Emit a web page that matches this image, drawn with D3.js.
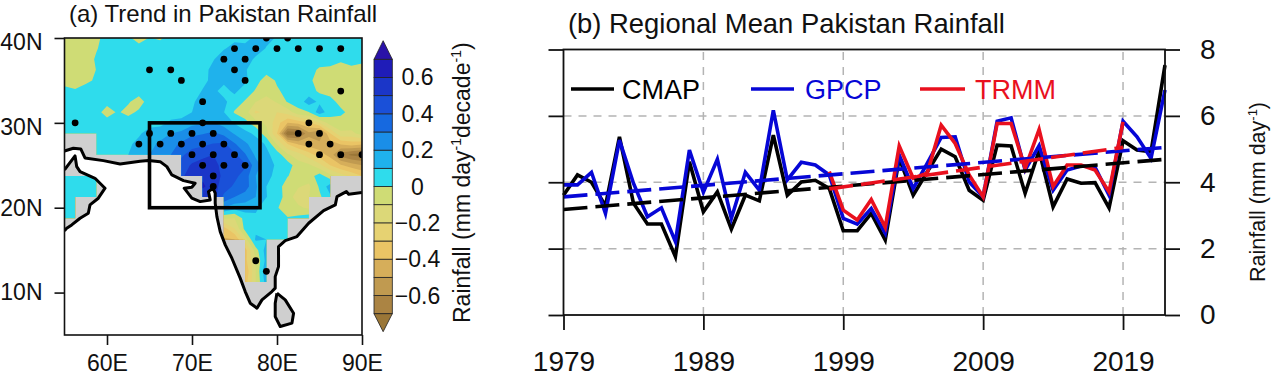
<!DOCTYPE html>
<html><head><meta charset="utf-8">
<script src="https://cdn.jsdelivr.net/npm/d3@7/dist/d3.min.js"></script>
<style>
html,body{margin:0;padding:0;background:#fff}
svg{display:block}
text{font-family:"Liberation Sans",Arial,sans-serif;fill:#111}
.domain,.tick line{stroke:#111}
</style></head><body><svg id="c" width="1271" height="376"></svg>
<script>
// ---------- Panel (a) data ----------
const trendRows = [
[-.05,-.01,.03,-.03,-.01,.04,.05,.08,.09,.11,.09,.05,.05,.05],
[-.03,-.05,.03,.04,.05,.05,.06,.08,.11,.12,.09,.06,.05,.05,.05],
[-.06,.01,.05,.05,.05,.05,.08,.12,.12,.07,.06,.05,.04,.04],
[-.04,-.05,.04,.05,.06,.06,.07,.11,.13,.06,.05,.05,-.01,-.05,-.03],
[-.05,.01,.05,.05,.05,.06,.09,.12,.12,-.04,.04,.01,-.06,-.06],
[.02,.03,.05,.05,.05,.06,.08,.12,.12,-.01,-.01,.05,-.02,-.08,-.03],
[.05,.03,.03,-.03,.05,.07,.12,.12,-.01,-.15,.01,.15,.03,-.08],
[.05,.05,-.03,-.02,.05,.07,.10,.14,-.01,-.22,-.2,-.03,.16,.02,-.03],
[.05,.05,.05,.05,.07,.11,.19,.16,.03,-.12,-.4,-.3,-.05,-.02],
[.05,.05,.05,.06,.13,.2,.28,.32,.19,.08,-.3,-.75,-.6,-.12,-.05],
[.05,.05,.07,.12,.22,.32,.38,.42,.22,.09,-.3,-.45,-.45,-.35],
[.05,.05,.06,.1,.2,.3,.45,.5,.42,.18,.06,-.15,-.35,-.65,-.75],
[.05,.05,.05,.1,.2,.45,.55,.48,.42,.15,.05,-.08,-.3,-.45],
[.05,.05,.05,.1,.2,.4,.6,.55,.43,.2,.07,-.05,.05,-.15,-.3],
[.05,.05,.05,.1,.2,.4,.62,.45,.35,.1,-.05,-.12,.15,0],
[.05,.05,.05,.1,.2,.3,.5,.55,.3,.2,.06,-.15,-.02,.1,0],
[.05,.05,.05,.1,.15,.2,.4,.2,.15,.05,-.08,-.12,.1,0],
[.05,.05,.05,.05,.05,.05,.05,-.1,-.1,.08,.02,.03,.25,.1,0],
[.05,.05,.05,.05,.05,.05,.05,-.35,.03,.07,.08,.1,.05,0],
[.05,.05,.05,.05,.05,.05,.05,-.4,-.4,.12,.06,.05,.05,.05,0],
[.05,.05,.05,.05,.05,.05,.05,-.5,-.35,.15,.05,.05,.05,0],
[.05,.05,.05,.05,.05,.05,.05,-.5,-.5,-.1,.3,.05,.05,.05,0],
[.05,.05,.05,.05,.05,.05,.05,.05,-.4,.2,.2,.05,.05,0],
[.05,.05,.05,.05,.05,.05,.05,-.5,-.5,-.1,.3,.05,.05,.05,0],
[.05,.05,.05,.05,.05,.05,.05,.05,-.4,.2,.2,.05,.05,0]
];
const trendExtras = [[73.75,33.75,.07],[81.25,28.75,-.78],[88.75,26.25,-.72],[60,31.25,-.03]];
const levels = [-.7,-.6,-.5,-.4,-.3,-.2,-.1,0,.1,.2,.3,.4,.5,.6,.7];
const levelColors = ["#9a7637","#ab8443","#c09a50","#d6ae5a","#eac465","#e6d272","#dcd878","#cfdc75",
                     "#2fdcec","#1fb2ec","#1a8ee8","#1669e0","#1a50d8","#1b36c8","#1f1cb8","#2a12a8"];
const maskRows = [[40,55,90],[37.5,55,90],[35,55,90],[32.5,55,90],[30,55,90],[27.5,60,90],[25,70,90],
  [22.5,55,57.5],[22.5,72.5,85],[20,55,55],[20,75,82.5],[17.5,75,80],[15,77.5,77.5],[12.5,77.5,77.5]];
const coastMain = [[55,26.69],[56.04,27.01],[56.91,26.93],[57.41,25.87],[59.57,25.55],[61.54,25.16],[63.89,25.48],[64.87,25.55],[66.25,25.43],[67.04,24.84],[67.63,23.86],[69,23.19],[70.37,22.89],[69.98,22.41],[69.08,22.3],[69.98,21.12],[70.96,20.72],[72.14,20.92],[71.94,21.9],[72.46,22.3],[72.73,21.71],[72.73,20.53],[72.93,18.95],[73.32,17.18],[73.91,15.62],[74.69,14.05],[75.67,11.7],[76.26,10.12],[76.85,8.75],[77.64,8.16],[78.23,9.14],[79.4,10.12],[79.79,10.52],[79.79,11.88],[80.18,13.06],[80.18,15.42],[80.97,16.12],[82.35,16.6],[83.72,18.17],[85.48,19.66],[86.86,20.33],[87.06,21.31],[88.16,21.9],[88.43,21.59],[90,21.78]];
const coastArabia = [[55,24.45],[56.24,26.1],[56.44,24.84],[56.83,24.25],[58.59,23.47],[59.77,22.3],[58.98,21.12],[58,20.33],[57.8,19.35],[56.83,18.76],[55.85,17.97],[55.26,17.59],[55,17.27]];
const coastLanka = [[79.99,9.93],[80.97,9.14],[81.95,7.57],[81.76,6.4],[80.38,6],[79.79,7.17],[79.79,8.75],[79.99,9.93]];
const sigDots = [[78.75,40],[81.25,40],[75,38.75],[77.5,38.75],[80,38.75],[82.5,38.75],[85,38.75],[87.5,38.75],[73.75,37.5],[76.25,37.5],[65,36.25],[67.5,36.25],[75,36.25],[68.75,35],[76.25,35],[87.5,33.75],[71.25,32.5],[56.25,30],[71.25,30],[83.75,30],[65,28.75],[67.5,28.75],[70,28.75],[72.5,28.75],[82.5,28.75],[85,28.75],[63.75,27.5],[66.25,27.5],[68.75,27.5],[71.25,27.5],[73.75,27.5],[83.75,27.5],[86.25,27.5],[70,26.25],[72.5,26.25],[75,26.25],[85,26.25],[87.5,26.25],[90,26.25],[71.25,25],[73.75,25],[76.25,25],[72.5,23.75],[72.5,22.5],[77.5,13.75],[78.75,12.5]];
const regionBox = [65,78,20,30];
const lonTicks = [60,70,80,90];
const latTicks = [10,20,30,40];
const barTicks = [-.6,-.4,-.2,0,.2,.4,.6];

// ---------- Panel (b) data ----------
const years = d3.range(1979,2023);
const cmap = [3.61,4.22,4.0,3.29,5.37,3.37,2.74,2.74,1.76,4.62,3.11,3.71,2.59,3.61,3.44,5.42,3.61,4.01,4.06,3.81,2.54,2.54,3.06,2.26,4.72,3.61,4.31,5.0,4.77,3.76,3.46,5.12,5.09,3.67,4.95,3.26,4.1,3.97,3.99,3.23,5.25,4.97,4.92,7.53];
const gpcp = [3.92,3.92,4.3,3.06,5.27,3.97,2.96,3.23,2.21,4.97,3.7,4.69,2.91,4.3,3.76,6.17,4.07,4.6,4.52,4.22,2.91,2.74,3.21,2.46,4.82,3.81,4.57,5.35,5.37,4.01,3.56,5.84,5.94,4.37,5.1,3.76,4.37,4.49,4.45,3.61,5.84,5.37,4.72,6.78];
const trmmYears = d3.range(1998,2020);
const trmm = [4.32,3.16,2.86,3.48,2.64,5.09,4.12,4.27,5.72,5.17,4.22,3.56,5.77,5.77,4.42,5.59,3.87,4.52,4.52,4.37,3.71,5.82];
const cmapTrend = [[1979,3.18],[2022,4.69]];
const gpcpTrend = [[1979,3.56],[2022,5.05]];
const trmmTrend = [[1998,3.8],[2019,5.05]];
const yearTicks = [1979,1989,1999,2009,2019];
const rainTicks = [0,2,4,6,8];
const gridYears = [1989,1999,2009,2019];
const gridRain = [2,4,6];

const svg = d3.select("#c");
const FS = 23;

// ---------- Panel (a) ----------
const xA = d3.scaleLinear().domain([55,90]).range([64.5,362]);
const yA = d3.scaleLinear().domain([5,40]).range([335,38]);
const defs = svg.append("defs");
defs.append("clipPath").attr("id","frameA").append("rect")
  .attr("x",xA(55)).attr("y",yA(40)).attr("width",xA(90)-xA(55)).attr("height",yA(5)-yA(40));
const line = d3.line().x(d=>xA(d[0])).y(d=>yA(d[1]));
const closed = a => line(a)+"Z";
const landD = closed(coastMain.concat([[90,40],[55,40]]))+closed(coastArabia)+closed(coastLanka);
defs.append("clipPath").attr("id","land").append("path").attr("d",landD);
defs.append("clipPath").attr("id","mask").selectAll("rect").data(maskRows).join("rect")
  .attr("x",d=>xA(d[1]-1.25)).attr("width",d=>xA(d[2]+1.25)-xA(d[1]-1.25))
  .attr("y",d=>yA(d[0]+1.25)).attr("height",d=>yA(d[0]-1.25)-yA(d[0]+1.25));

// staggered data on a 1.25 degree lattice; gaps take the mean of their neighbours
const nx = 29, ny = trendRows.length;
const lat0 = 40, lon0 = 55, step = 1.25;
const grid = d3.range(ny).map(()=>new Array(nx).fill(null));
trendRows.forEach((r,i)=>r.forEach((v,j)=>{ const c = i%2===0 ? 1+2*j : 2*j; if(c<nx) grid[i][c]=v; }));
const filled = grid.map((r,i)=>r.map((v,c)=>{
  if(v!==null) return v;
  const n=[[i-1,c],[i+1,c],[i,c-1],[i,c+1]].filter(([a,b])=>a>=0&&a<ny&&b>=0&&b<nx&&grid[a][b]!==null).map(([a,b])=>grid[a][b]);
  return d3.mean(n);
}));
trendExtras.forEach(([lon,lat,v])=>{ filled[Math.round((lat0-lat)/step)][Math.round((lon-lon0)/step)]=v; });
const flat = filled.flat();
const contourGen = d3.contours().size([nx,ny]).smooth(true).thresholds(levels);
const bands = contourGen(flat);
const path = d3.geoPath(d3.geoTransform({point(x,y){
  this.stream.point(xA(lon0+(x-.5)*step), yA(lat0-(y-.5)*step));
}}));

const gA = svg.append("g").attr("clip-path","url(#frameA)");
gA.append("path").attr("d",landD).attr("fill","#cfcfcf");
const gC = gA.append("g").attr("clip-path","url(#land)").append("g").attr("clip-path","url(#mask)");
gC.append("rect").attr("x",xA(55)).attr("y",yA(40)).attr("width",xA(90)-xA(55)).attr("height",yA(5)-yA(40)).attr("fill",levelColors[0]);
gC.selectAll("path").data(bands).join("path").attr("d",path).attr("fill",(d,i)=>levelColors[i+1]);
gA.selectAll("path.coast").data([coastMain,coastArabia,coastLanka]).join("path").attr("class","coast")
  .attr("d",line).attr("fill","none").attr("stroke","#000").attr("stroke-width",3).attr("stroke-linejoin","round");
gA.selectAll("circle").data(sigDots).join("circle")
  .attr("cx",d=>xA(d[0])).attr("cy",d=>yA(d[1])).attr("r",3.4).attr("fill","#000");
svg.append("rect").attr("x",xA(regionBox[0])).attr("y",yA(regionBox[3]))
  .attr("width",xA(regionBox[1])-xA(regionBox[0])).attr("height",yA(regionBox[2])-yA(regionBox[3]))
  .attr("fill","none").attr("stroke","#000").attr("stroke-width",3.6);
svg.append("rect").attr("x",xA(55)).attr("y",yA(40)).attr("width",xA(90)-xA(55)).attr("height",yA(5)-yA(40))
  .attr("fill","none").attr("stroke","#111").attr("stroke-width",1.6);
const axB = svg.append("g").attr("transform",`translate(0,${yA(5)})`)
  .call(d3.axisBottom(xA).tickValues(lonTicks).tickFormat(d=>d+"E").tickSize(10).tickPadding(9.5));
const axL = svg.append("g").attr("transform",`translate(${xA(55)},0)`)
  .call(d3.axisLeft(yA).tickValues(latTicks).tickFormat(d=>d+"N").tickSize(10).tickPadding(12));
[axB,axL].forEach(a=>{a.select(".domain").remove();a.selectAll("line").attr("stroke-width",1.6);a.selectAll("text").style("font-size",FS+"px").style("font-family","Liberation Sans");});
axL.selectAll(".tick text").attr("dy",d=>d>=30?"0.5em":"0.32em");
svg.append("text").attr("x",69).attr("y",22).style("font-size","24px").text("(a) Trend in Pakistan Rainfall");

// colour bar
const yBar = d3.scaleLinear().domain([-.7,.7]).range([313.7,59.3]);
const barX0 = 374, barX1 = 392.3;
const barG = svg.append("g").attr("stroke","#222").attr("stroke-width",.8);
levelColors.slice(1,15).forEach((c,i)=>{
  barG.append("rect").attr("x",barX0).attr("width",barX1-barX0)
    .attr("y",yBar(levels[i+1])).attr("height",yBar(levels[i])-yBar(levels[i+1])).attr("fill",c);
});
barG.append("path").attr("d",`M${barX0},${yBar(.7)}L${(barX0+barX1)/2},40.7L${barX1},${yBar(.7)}Z`).attr("fill",levelColors[15]);
barG.append("path").attr("d",`M${barX0},${yBar(-.7)}L${(barX0+barX1)/2},331.7L${barX1},${yBar(-.7)}Z`).attr("fill",levelColors[0]);
svg.append("g").selectAll("text").data(barTicks).join("text")
  .attr("x",417.5).attr("y",d=>yBar(d)+8).attr("text-anchor","middle")
  .style("font-size",FS+"px").text(d=>d===0?"0":d3.format(".1f")(d));
const t1 = svg.append("text").attr("transform","translate(470,323) rotate(-90)").style("font-size","23px");
t1.append("tspan").text("Rainfall (mm day");
t1.append("tspan").attr("dy",-9).style("font-size","14px").text("-1");
t1.append("tspan").attr("dy",9).text("decade");
t1.append("tspan").attr("dy",-9).style("font-size","14px").text("-1");
t1.append("tspan").attr("dy",9).text(")");

// ---------- Panel (b) ----------
const xB = d3.scaleLinear().domain([1979,2022]).range([563.5,1165]);
const yB = d3.scaleLinear().domain([0,8]).range([315,49.5]);
const gridG = svg.append("g").attr("stroke","#b4b4b4").attr("stroke-width",1.5).attr("stroke-dasharray","8 7");
gridG.selectAll("line.h").data(gridRain).join("line").attr("class","h")
  .attr("x1",xB(1979)).attr("x2",xB(2022)).attr("y1",d=>yB(d)).attr("y2",d=>yB(d));
gridG.selectAll("line.v").data(gridYears).join("line").attr("class","v")
  .attr("x1",d=>xB(d)).attr("x2",d=>xB(d)).attr("y1",yB(0)).attr("y2",yB(8));
const lineB = d3.line().x(d=>xB(d[0])).y(d=>yB(d[1]));
const pair = (xs,ys)=>xs.map((x,i)=>[x,ys[i]]);
const series = [[pair(years,cmap),"#000"],[pair(years,gpcp),"#0606d6"],[pair(trmmYears,trmm),"#e9101e"]];
svg.append("g").selectAll("path").data(series).join("path")
  .attr("d",d=>lineB(d[0])).attr("fill","none").attr("stroke",d=>d[1]).attr("stroke-width",3.6).attr("stroke-linejoin","miter");
const trends = [[cmapTrend,"#000"],[gpcpTrend,"#0606d6"],[trmmTrend,"#e9101e"]];
svg.append("g").selectAll("path").data(trends).join("path")
  .attr("d",d=>lineB(d[0])).attr("fill","none").attr("stroke",d=>d[1]).attr("stroke-width",3.6).attr("stroke-dasharray","24 8");
svg.append("rect").attr("x",xB(1979)).attr("y",yB(8)).attr("width",xB(2022)-xB(1979)).attr("height",yB(0)-yB(8))
  .attr("fill","none").attr("stroke","#111").attr("stroke-width",1.8);
const fmtB = [
  svg.append("g").attr("transform",`translate(0,${yB(0)})`).call(d3.axisBottom(xB).tickValues(yearTicks).tickFormat(d3.format("d")).tickSize(15).tickPadding(21)),
  svg.append("g").attr("transform",`translate(${xB(1979)},0)`).call(d3.axisLeft(yB).tickValues(rainTicks).tickFormat("").tickSize(15)),
  svg.append("g").attr("transform",`translate(${xB(2022)},0)`).call(d3.axisRight(yB).tickValues(rainTicks).tickFormat(d3.format("d")).tickSize(15).tickPadding(20))
];
fmtB.forEach(a=>{a.select(".domain").remove();a.selectAll("line").attr("stroke-width",1.8);a.selectAll("text").style("font-size","28px").style("font-family","Liberation Sans");});
svg.append("text").attr("x",568).attr("y",32.5).style("font-size","27.4px").text("(b) Regional Mean Pakistan Rainfall");
const legendNames = ["CMAP","GPCP","TRMM"];
const legendColors = ["#000","#0606d6","#e9101e"];
const legendX = [[571,614,622],[751,794,805],[920,965,975]];
legendNames.forEach((n,i)=>{
  svg.append("line").attr("x1",legendX[i][0]).attr("x2",legendX[i][1]).attr("y1",89).attr("y2",89)
    .attr("stroke",legendColors[i]).attr("stroke-width",3.6);
  svg.append("text").attr("x",legendX[i][2]).attr("y",99).style("font-size","27px").style("fill",legendColors[i]).text(n);
});
const t2 = svg.append("text").attr("transform","translate(1265,282) rotate(-90)").style("font-size","21.5px");
t2.append("tspan").text("Rainfall (mm day");
t2.append("tspan").attr("dy",-8).style("font-size","13px").text("-1");
t2.append("tspan").attr("dy",8).text(")");
</script></body></html>
